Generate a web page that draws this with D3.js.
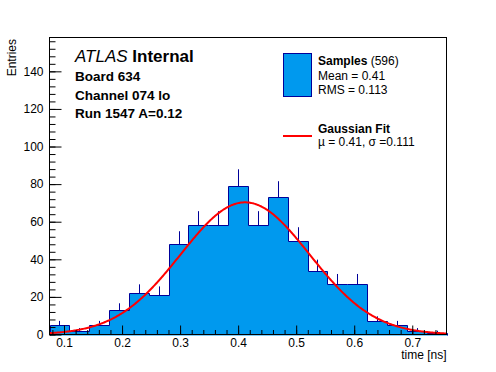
<!DOCTYPE html>
<html lang="en">
<head>
<meta charset="UTF-8">
<title>Board 634 timing</title>
<style>
  body { margin: 0; background: #fff; }
  text { font-family: "Liberation Sans", Arial, sans-serif; }
</style>
</head>
<body>
<svg width="496" height="372"></svg>
<script src="https://cdn.jsdelivr.net/npm/d3@7"></script>
<script>
// histogram: 20 bins over the time range
var binCounts = [5, 2, 5, 13, 22, 21, 48, 58, 58, 79, 58, 73, 50, 34, 27, 27, 7, 5, 2, 1];
var timeRange = [0.075, 0.759];
var yRange = [0, 158];
var xTickLabels = [0.1, 0.2, 0.3, 0.4, 0.5, 0.6, 0.7];
var yTickLabels = [0, 20, 40, 60, 80, 100, 120, 140];
// gaussian fit parameters
var fitMean = 0.412, fitSigma = 0.111, fitAmp = 70.3;
var infoLines = ["Board 634", "Channel 074 lo", "Run 1547 A=0.12"];

var svg = d3.select("svg");
var fL = 49.5, fR = 446.5, fT = 37.5, fB = 334.5;

var x = d3.scaleLinear().domain(timeRange).range([fL, fR]);
var y = d3.scaleLinear().domain(yRange).range([fB, fT]);

var binW = (timeRange[1] - timeRange[0]) / binCounts.length;
var bins = binCounts.map(function (v, i) {
  return { x0: timeRange[0] + i * binW, x1: timeRange[0] + (i + 1) * binW, v: v };
});

var fillCol = "#0099ee", lineCol = "#000099";

// error bars first, fill goes on top of them like in ROOT
svg.append("g").selectAll("line").data(bins).enter().append("line")
  .attr("x1", function (d) { return Math.round(x((d.x0 + d.x1) / 2)) + 0.5; })
  .attr("x2", function (d) { return Math.round(x((d.x0 + d.x1) / 2)) + 0.5; })
  .attr("y1", function (d) { return y(d.v + Math.sqrt(d.v)); })
  .attr("y2", function (d) { return y(Math.max(0, d.v - Math.sqrt(d.v))); })
  .attr("stroke", lineCol).attr("stroke-width", 1);

var step = [[x(timeRange[0]), y(0)]];
bins.forEach(function (d) {
  step.push([x(d.x0), y(d.v)]);
  step.push([x(d.x1), y(d.v)]);
});
step.push([x(timeRange[1]), y(0)]);

svg.append("path")
  .attr("d", d3.line()(step.map(function (p) { return [Math.round(p[0]) + 0.5, Math.round(p[1]) + 0.5]; })))
  .attr("fill", fillCol).attr("stroke", lineCol).attr("stroke-width", 1);

// fit curve
var fitPts = d3.range(timeRange[0], timeRange[1] + 1e-9, binW / 20).map(function (t) {
  return [x(t), y(fitAmp * Math.exp(-0.5 * Math.pow((t - fitMean) / fitSigma, 2)))];
});
svg.append("path").attr("d", d3.line()(fitPts))
  .attr("fill", "none").attr("stroke", "#ff0000").attr("stroke-width", 2);

// frame
svg.append("rect").attr("x", fL).attr("y", fT)
  .attr("width", fR - fL).attr("height", fB - fT)
  .attr("fill", "none").attr("stroke", "#000").attr("stroke-width", 1);

// axes with inward ticks
svg.append("g").attr("transform", "translate(0," + fB + ")")
  .call(d3.axisBottom(x).tickValues(xTickLabels).tickSize(-9).tickPadding(4)
    .tickFormat(d3.format(".1f")));
svg.append("g").attr("transform", "translate(0," + fB + ")")
  .call(d3.axisBottom(x).tickValues(d3.range(0.08, 0.745, 0.02)).tickSize(-4.5).tickFormat(""));
svg.append("g").attr("transform", "translate(" + fL + ",0)")
  .call(d3.axisLeft(y).tickValues(yTickLabels).tickSize(-12).tickPadding(6));
svg.append("g").attr("transform", "translate(" + fL + ",0)")
  .call(d3.axisLeft(y).tickValues(d3.range(0, 157, 4)).tickSize(-6).tickFormat(""));

svg.selectAll(".domain").remove();
svg.selectAll(".tick line").attr("stroke", "#000");
svg.selectAll(".tick text").attr("font-size", 12).attr("fill", "#000")
  .attr("font-family", "Liberation Sans, Arial, sans-serif");

svg.append("text").attr("x", fR).attr("y", 359).attr("text-anchor", "end")
  .attr("font-size", 12).text("time [ns]");
svg.append("text").attr("transform", "translate(16,39) rotate(-90)")
  .attr("text-anchor", "end").attr("font-size", 12).text("Entries");

// labels
var lab = svg.append("text").attr("x", 75).attr("y", 62).attr("font-size", 17);
lab.append("tspan").attr("font-style", "italic").text("ATLAS");
lab.append("tspan").attr("font-weight", "bold").text(" Internal");
svg.selectAll(".info").data(infoLines).enter().append("text")
  .attr("x", 75).attr("y", function (d, i) { return 81 + i * 18.5; })
  .attr("font-size", 13.5).attr("font-weight", "bold").text(function (d) { return d; });

// legend
svg.append("rect").attr("x", 283.5).attr("y", 53.5).attr("width", 28).attr("height", 43)
  .attr("fill", fillCol).attr("stroke", lineCol);
var s = svg.append("text").attr("x", 318).attr("y", 65).attr("font-size", 12);
s.append("tspan").attr("font-weight", "bold").text("Samples");
s.append("tspan").text(" (596)");
svg.append("text").attr("x", 318).attr("y", 80).attr("font-size", 12).text("Mean = 0.41");
svg.append("text").attr("x", 318).attr("y", 94).attr("font-size", 12).text("RMS = 0.113");
svg.append("line").attr("x1", 283).attr("x2", 312).attr("y1", 136).attr("y2", 136)
  .attr("stroke", "#ff0000").attr("stroke-width", 2);
svg.append("text").attr("x", 318).attr("y", 132.5).attr("font-size", 12)
  .attr("font-weight", "bold").text("Gaussian Fit");
svg.append("text").attr("x", 318).attr("y", 146).attr("font-size", 12)
  .text("\u00b5 = 0.41, \u03c3 =0.111");
</script>
</body>
</html>
